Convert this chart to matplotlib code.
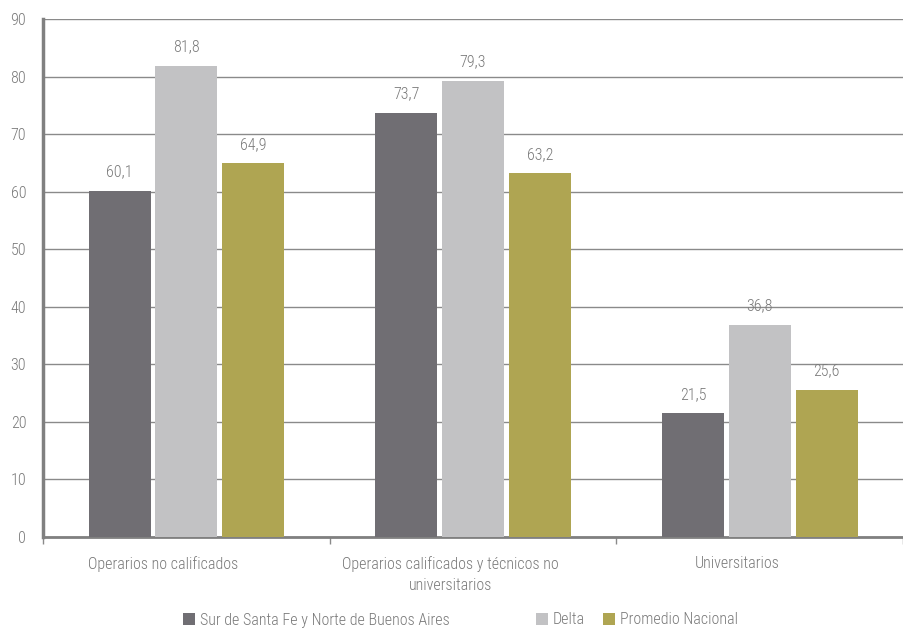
import matplotlib
matplotlib.use("Agg")
import matplotlib.pyplot as plt
import numpy as np

categories = ["Operarios no calificados",
              "Operarios calificados y técnicos no\nuniversitarios",
              "Universitarios"]
series_names = ["Sur de Santa Fe y Norte de Buenos Aires", "Delta", "Promedio Nacional"]
sur = [60.1, 73.7, 21.5]
delta = [81.8, 79.3, 36.8]
promedio = [64.9, 63.2, 25.6]
colors = ["#706e73", "#c2c2c4", "#afa552"]
yticks = [0, 10, 20, 30, 40, 50, 60, 70, 80, 90]

plt.rcParams['font.family'] = ['Roboto Condensed', 'DejaVu Sans']
plt.rcParams['font.weight'] = 'light'
txt = "#7a7a7a"
fs = 11.5

fig = plt.figure(figsize=(9.04, 6.28), dpi=100)
ax = fig.add_axes([43/904, 1-537/628, 1-43/904-0.001, (537-19)/628])

x = np.arange(len(categories))
step = 0.233
width = 0.216
handles = []
for i, (vals, name) in enumerate(zip([sur, delta, promedio], series_names)):
    pos = x + (i-1)*step
    b = ax.bar(pos, vals, width, color=colors[i], label=name, zorder=3)
    handles.append(b)
    for p, v in zip(pos, vals):
        ax.text(p, v + 2.0, f"{v:.1f}".replace(".", ","), ha="center", va="bottom",
                fontsize=fs, color=txt)

ax.set_xlim(-0.5, 2.5)
ax.set_ylim(0, 90)
ax.set_yticks(yticks)
ax.set_yticklabels([str(t) for t in yticks], fontsize=fs, color=txt)
ax.tick_params(axis='y', length=0, pad=12)
ax.yaxis.grid(True, color="#8a8a8a", linewidth=1.0, zorder=0)
ax.set_axisbelow(True)

ax.set_xticks([-0.5, 0.5, 1.5, 2.5])
ax.set_xticklabels([])
ax.tick_params(axis='x', which='major', length=5, color="#8a8a8a", width=1)
ax.set_xticks(x - 0.08, minor=True)
ax.set_xticklabels(categories, minor=True, fontsize=fs, color=txt, linespacing=1.45)
ax.tick_params(axis='x', which='minor', length=0, pad=14)

for s in ["top", "right"]:
    ax.spines[s].set_visible(False)
ax.spines["left"].set_color("#808080")
ax.spines["left"].set_linewidth(2.5)
ax.spines["bottom"].set_color("#808080")
ax.spines["bottom"].set_linewidth(2)

leg_x = [183, 536, 603]
for h, name, lx in zip(handles, series_names, leg_x):
    fig.legend([h], [name], loc="center left", bbox_to_anchor=(lx/904, 1-620/628),
               frameon=False, fontsize=fs, handlelength=0.75, handleheight=0.75,
               handletextpad=0.3, borderpad=0, borderaxespad=0, labelcolor=txt)

fig.savefig("out.png", dpi=100)
